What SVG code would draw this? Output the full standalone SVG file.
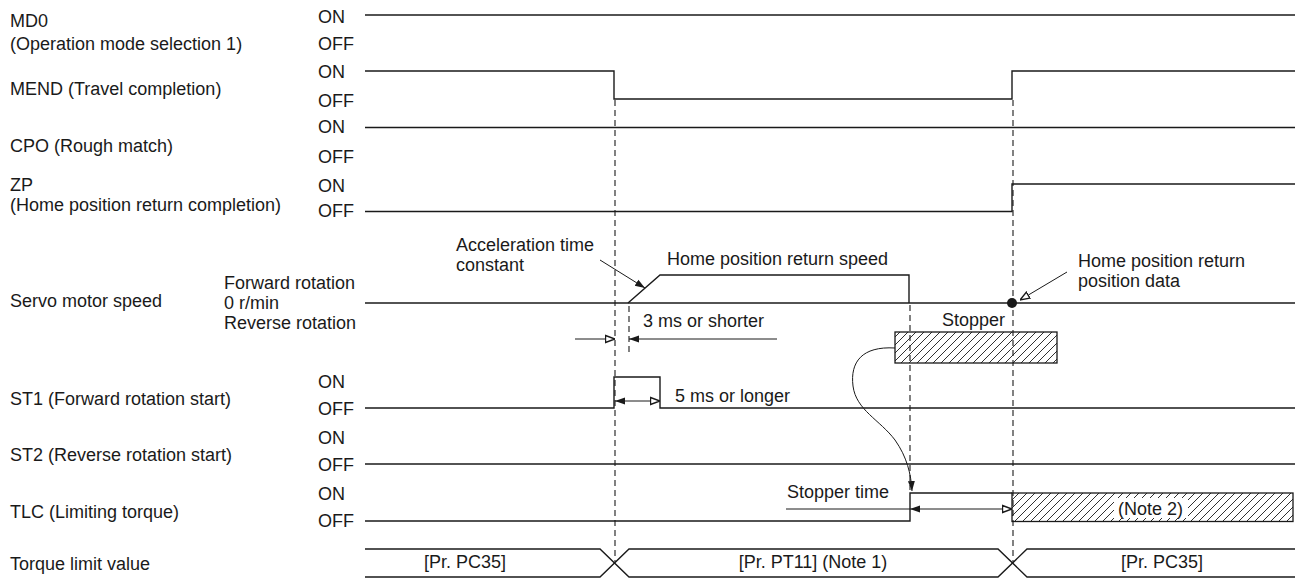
<svg xmlns="http://www.w3.org/2000/svg" width="1295" height="579" viewBox="0 0 1295 579">
<style>
text{font-family:"Liberation Sans",Arial,sans-serif;font-size:18px;fill:#1a1a1a}
.sig{fill:none;stroke:#1a1a1a;stroke-width:1.4}
.thin{fill:none;stroke:#1a1a1a;stroke-width:1}
.dash{fill:none;stroke:#1a1a1a;stroke-width:1.1;stroke-dasharray:6,4}
.mid{text-anchor:middle}
</style>
<defs>
<marker id="aF" viewBox="0 0 10 10" refX="10" refY="5" markerWidth="10" markerHeight="10" markerUnits="userSpaceOnUse" orient="auto-start-reverse"><path d="M0,1.5 L10,5 L0,8.5 z" fill="#1a1a1a"/></marker>
<marker id="aO" viewBox="0 0 10 10" refX="10" refY="5" markerWidth="10" markerHeight="10" markerUnits="userSpaceOnUse" orient="auto-start-reverse"><path d="M0.5,1.5 L10,5 L0.5,8.5 z" fill="#fff" stroke="#1a1a1a" stroke-width="1.4"/></marker>
<pattern id="hatch" patternUnits="userSpaceOnUse" width="8" height="8"><path d="M-2,2 L2,-2 M0,8 L8,0 M6,10 L10,6" stroke="#1a1a1a" stroke-width="0.9"/></pattern>
</defs>

<g id="labels">
<text x="10" y="27">MD0</text>
<text x="10" y="50">(Operation mode selection 1)</text>
<text x="10" y="95">MEND (Travel completion)</text>
<text x="10" y="152">CPO (Rough match)</text>
<text x="10" y="191">ZP</text>
<text x="10" y="211">(Home position return completion)</text>
<text x="10" y="307">Servo motor speed</text>
<text x="10" y="405">ST1 (Forward rotation start)</text>
<text x="10" y="461">ST2 (Reverse rotation start)</text>
<text x="10" y="518">TLC (Limiting torque)</text>
<text x="10" y="570">Torque limit value</text>
<text x="318" y="23">ON</text><text x="318" y="50">OFF</text>
<text x="318" y="78">ON</text><text x="318" y="107">OFF</text>
<text x="318" y="133">ON</text><text x="318" y="163">OFF</text>
<text x="318" y="192">ON</text><text x="318" y="217">OFF</text>
<text x="224" y="289">Forward rotation</text>
<text x="224" y="309">0 r/min</text>
<text x="224" y="329">Reverse rotation</text>
<text x="318" y="388">ON</text><text x="318" y="415">OFF</text>
<text x="318" y="444">ON</text><text x="318" y="471">OFF</text>
<text x="318" y="500">ON</text><text x="318" y="527">OFF</text>
</g>

<g id="md0"><path class="sig" d="M365,15 H1295"/></g>
<g id="mend"><path class="sig" d="M365,71 H614 V99 H1012 V71 H1295"/></g>
<g id="cpo"><path class="sig" d="M365,127.5 H1295"/></g>
<g id="zp"><path class="sig" d="M365,211.5 H1012 V184 H1295"/></g>

<g id="speed">
<path class="sig" d="M365,303 H1295"/>
<path class="sig" d="M628,303 L660,275 H909 V303"/>
<circle cx="1012" cy="303" r="5" fill="#1a1a1a"/>
<text x="456" y="251">Acceleration time</text>
<text x="456" y="271">constant</text>
<text x="667" y="265">Home position return speed</text>
<text x="1078" y="267">Home position return</text>
<text x="1078" y="287">position data</text>
<text x="643" y="327">3 ms or shorter</text>
</g>

<g id="stopper">
<rect x="895" y="332" width="162" height="31" fill="url(#hatch)" stroke="#1a1a1a" stroke-width="1.3"/>
<text x="942" y="326">Stopper</text>
</g>

<g id="st1">
<path class="sig" d="M365,408 H614 V377 H660 V408 H1295"/>
<text x="675" y="402">5 ms or longer</text>
</g>
<g id="st2"><path class="sig" d="M365,464 H1295"/></g>

<g id="tlc">
<path class="sig" d="M365,521 H910 V493 H1012"/>
<rect x="1012" y="493" width="281" height="28.5" fill="url(#hatch)" stroke="#1a1a1a" stroke-width="1.3"/>
<rect x="1114" y="498" width="74" height="20" fill="#fff"/>
<text x="1118" y="515">(Note 2)</text>
<text x="787" y="498">Stopper time</text>
</g>

<g id="torque">
<path class="sig" d="M365,549 H600 L629,577 H998 L1027,549 H1295"/>
<path class="sig" d="M365,577 H600 L629,549 H998 L1027,577 H1295"/>
<text class="mid" x="465" y="568">[Pr. PC35]</text>
<text class="mid" x="813" y="568">[Pr. PT11] (Note 1)</text>
<text class="mid" x="1162" y="568">[Pr. PC35]</text>
</g>

<g id="connectors">
<path class="dash" d="M615,100 V562"/>
<path class="dash" d="M1013,100 V562"/>
<path class="dash" d="M910,305 V490"/>
<path class="dash" d="M629,306 V352"/>
<line class="thin" x1="600" y1="260" x2="645" y2="288" marker-end="url(#aF)"/>
<line class="thin" x1="1067" y1="272" x2="1020" y2="300" marker-end="url(#aO)"/>
<line class="thin" x1="575" y1="339" x2="615" y2="339" marker-end="url(#aO)"/>
<line class="thin" x1="777" y1="339" x2="629" y2="339" marker-end="url(#aF)"/>
<line class="thin" x1="615" y1="401" x2="660" y2="401" marker-start="url(#aF)" marker-end="url(#aO)"/>
<line class="thin" x1="786" y1="509" x2="910" y2="509"/>
<line class="thin" x1="910" y1="509" x2="1012" y2="509" marker-start="url(#aF)" marker-end="url(#aO)"/>
<path class="thin" d="M895,348 C862,346 850,362 853,386 C856,410 880,420 895,440 C907,457 911,474 912,491" marker-end="url(#aF)"/>
</g>
</svg>
